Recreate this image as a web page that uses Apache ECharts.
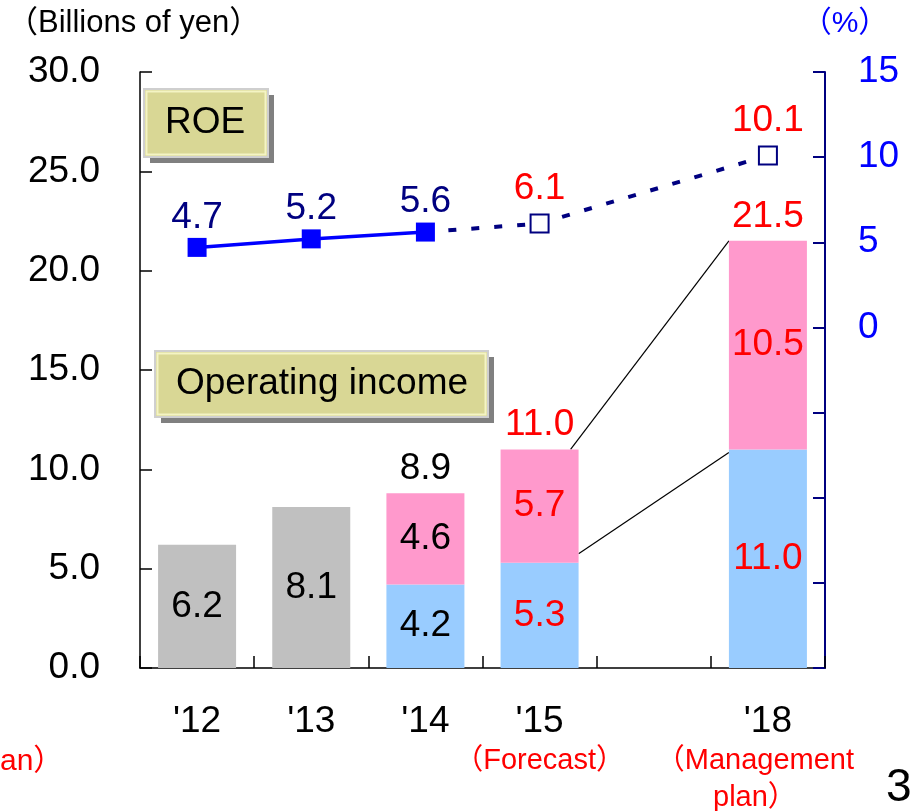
<!DOCTYPE html>
<html>
<head>
<meta charset="utf-8">
<script src="https://cdn.jsdelivr.net/npm/echarts@6/dist/echarts.min.js"></script>
<style>
html,body{margin:0;padding:0;background:#fff;overflow:hidden;}
#chart{width:912px;height:811px;}
</style>
</head>
<body>
<div id="chart"></div>
<script>
const categories = ["'12", "'13", "'14", "'15", "", "'18"];
const subLabels = ["", "", "", "（Forecast）", "", "（Management\nplan）"];
const grayValues = [6.2, 8.1, null, null, null, null];
const blueValues = [null, null, 4.2, 5.3, null, 11.0];
const pinkValues = [null, null, 4.6, 5.7, null, 10.5];
const totalValues = [null, null, 8.9, 11.0, null, 21.5];
const roeActual = [4.7, 5.2, 5.6, null, null, null];
const roePlan = [null, null, 5.6, 6.1, null, 10.1];
const planFlags = [false, false, false, true, false, true];
const leftTicks = [0, 5, 10, 15, 20, 25, 30];
const rightTicks = [-20, -15, -10, -5, 0, 5, 10, 15];

const FONT = '"Liberation Sans", Arial, "Noto Sans CJK JP", sans-serif';
const RED = '#ff0000';
const NAVY = '#000080';
const FS = 37;
const labelColor = i => planFlags[i] ? RED : '#000000';
const BAR_W = 78;

function barData(vals) {
  return vals.map((v, i) => v == null ? '-' : { value: v, label: { color: labelColor(i) } });
}

const chart = echarts.init(document.getElementById('chart'), null, { renderer: 'canvas' });

const option = {
  animation: false,
  backgroundColor: '#ffffff',
  textStyle: { fontFamily: FONT },
  grid: { left: 140, right: 87, top: 72, bottom: 143, containLabel: false, outerBoundsMode: 'none' },
  xAxis: {
    type: 'category',
    data: categories,
    boundaryGap: true,
    axisLine: { show: true, lineStyle: { color: '#000', width: 1.5 } },
    axisTick: { show: true, inside: true, length: 12, alignWithLabel: false, lineStyle: { color: '#000', width: 1.5 } },
    axisLabel: {
      margin: 34,
      interval: 0,
      color: '#000',
      fontSize: FS,
      fontFamily: FONT,
      lineHeight: 40,
      formatter: (v, i) => {
        const s = subLabels[i];
        if (!s) return v;
        const st = s.indexOf('\n') >= 0 ? 'subL' : 'sub';
        return v + '\n' + s.split('\n').map(t => '{' + st + '|' + t + '}').join('\n');
      },
      rich: {
        sub: { color: RED, fontSize: 29, lineHeight: 37, fontFamily: FONT },
        subL: { color: RED, fontSize: 29, lineHeight: 37, fontFamily: FONT, padding: [0, 26, 0, 0] }
      }
    }
  },
  yAxis: [
    {
      type: 'value',
      min: leftTicks[0], max: leftTicks[leftTicks.length - 1], interval: 5,
      axisLine: { show: true, lineStyle: { color: '#000', width: 1.5 } },
      axisTick: { show: true, inside: true, length: 12, lineStyle: { color: '#000', width: 1.5 } },
      splitLine: { show: false },
      axisLabel: { margin: 40, color: '#000', fontSize: FS, fontFamily: FONT, formatter: v => v.toFixed(1) }
    },
    {
      type: 'value',
      position: 'right',
      min: rightTicks[0], max: rightTicks[rightTicks.length - 1], interval: 5,
      axisLine: { show: true, lineStyle: { color: NAVY, width: 2 } },
      axisTick: { show: true, inside: true, length: 12, lineStyle: { color: NAVY, width: 2 } },
      splitLine: { show: false },
      axisLabel: { margin: 33, color: '#0000ff', fontSize: FS, fontFamily: FONT, formatter: v => v >= 0 ? String(v) : '' }
    }
  ],
  series: [
    {
      name: 'gray', type: 'bar', stack: 'oi', barWidth: BAR_W,
      itemStyle: { color: '#c0c0c0' },
      label: { show: true, position: 'inside', fontSize: FS, fontFamily: FONT, formatter: p => p.value.toFixed(1) },
      data: barData(grayValues), z: 2
    },
    {
      name: 'blue', type: 'bar', stack: 'oi', barWidth: BAR_W,
      itemStyle: { color: '#99ccff' },
      label: { show: true, position: 'inside', fontSize: FS, fontFamily: FONT, formatter: p => p.value.toFixed(1) },
      data: barData(blueValues), z: 2
    },
    {
      name: 'pink', type: 'bar', stack: 'oi', barWidth: BAR_W,
      itemStyle: { color: '#ff99cc' },
      label: { show: true, position: 'inside', fontSize: FS, fontFamily: FONT, formatter: p => p.value.toFixed(1) },
      data: barData(pinkValues), z: 2
    },
    {
      name: 'total', type: 'bar', stack: 'oi', barWidth: BAR_W,
      itemStyle: { color: '#ff99cc' },
      label: { show: true, position: 'top', distance: 6, fontSize: FS, fontFamily: FONT, formatter: p => totalValues[p.dataIndex].toFixed(1) },
      data: totalValues.map((v, i) => v == null ? '-' : { value: 0, label: { color: labelColor(i) } }),
      z: 3
    },
    {
      name: 'ROE plan', type: 'line', yAxisIndex: 1, connectNulls: true,
      lineStyle: { color: NAVY, width: 4, type: [8, 15] },
      symbol: 'rect', symbolSize: 18,
      itemStyle: { color: '#ffffff', borderColor: NAVY, borderWidth: 2 },
      label: { show: true, position: 'top', distance: 6, color: RED, fontSize: FS, fontFamily: FONT, formatter: p => p.value.toFixed(1) },
      data: roePlan.map((v, i) => {
        if (v == null) return '-';
        if (!planFlags[i]) return { value: v, symbol: 'none', label: { show: false } };
        return v;
      }),
      z: 4
    },
    {
      name: 'ROE', type: 'line', yAxisIndex: 1,
      lineStyle: { color: '#0000ff', width: 3.5 },
      symbol: 'rect', symbolSize: 19,
      itemStyle: { color: '#0000ff' },
      label: { show: true, position: 'top', distance: 2, color: NAVY, fontSize: FS, fontFamily: FONT, formatter: p => p.value.toFixed(1) },
      data: roeActual.map(v => v == null ? '-' : v),
      z: 5
    }
  ]
};

chart.setOption(option);

// Connector lines between the '15 and '18 bars, derived from data
const i15 = 3, i18 = 5;
const a1 = chart.convertToPixel({ xAxisIndex: 0, yAxisIndex: 0 }, [i15, blueValues[i15] + pinkValues[i15]]);
const b1 = chart.convertToPixel({ xAxisIndex: 0, yAxisIndex: 0 }, [i18, blueValues[i18] + pinkValues[i18]]);
const a2 = chart.convertToPixel({ xAxisIndex: 0, yAxisIndex: 0 }, [i15, blueValues[i15]]);
const b2 = chart.convertToPixel({ xAxisIndex: 0, yAxisIndex: 0 }, [i18, blueValues[i18]]);
const half = BAR_W / 2;

function box(x, y, w, h, text) {
  return {
    type: 'group', x: x, y: y, z: 20,
    children: [
      { type: 'rect', shape: { x: 6, y: 6, width: w, height: h }, style: { fill: '#808080' } },
      { type: 'rect', shape: { x: 0, y: 0, width: w, height: h }, style: { fill: '#d9d795', stroke: '#cfcfcf', lineWidth: 2 } },
      { type: 'rect', shape: { x: 2.5, y: 2.5, width: w - 5, height: h - 5 }, style: { fill: 'none', stroke: '#f4f4c4', lineWidth: 2 } },
      { type: 'text', x: 21, y: h / 2, style: { text: text, font: FS + 'px ' + FONT, fill: '#000', textVerticalAlign: 'middle', textAlign: 'left' } }
    ]
  };
}

chart.setOption({
  graphic: [
    { type: 'line', z: 1, shape: { x1: a1[0] + half - 8, y1: a1[1], x2: b1[0] - half, y2: b1[1] }, style: { stroke: '#000', lineWidth: 1.2 } },
    { type: 'line', z: 1, shape: { x1: a2[0] + half, y1: a2[1] - 9, x2: b2[0] - half, y2: b2[1] + 3 }, style: { stroke: '#000', lineWidth: 1.2 } },
    box(144, 89, 124, 68, 'ROE'),
    box(155, 351, 333, 66, 'Operating income'),
    { type: 'text', x: 7, y: 23, style: { text: '（Billions of yen）', font: '31px ' + FONT, fill: '#000', textVerticalAlign: 'middle' } },
    { type: 'text', x: 845, y: 24, style: { text: '（%）', font: '30px ' + FONT, fill: '#0000ff', textVerticalAlign: 'middle', textAlign: 'center' } },
    { type: 'text', x: 0, y: 762, style: { text: 'an）', font: '30px ' + FONT, fill: RED, textVerticalAlign: 'middle' } },
    { type: 'text', x: 886, y: 788, style: { text: '3', font: '46px ' + FONT, fill: '#000', textVerticalAlign: 'middle' } }
  ]
});
</script>
</body>
</html>
